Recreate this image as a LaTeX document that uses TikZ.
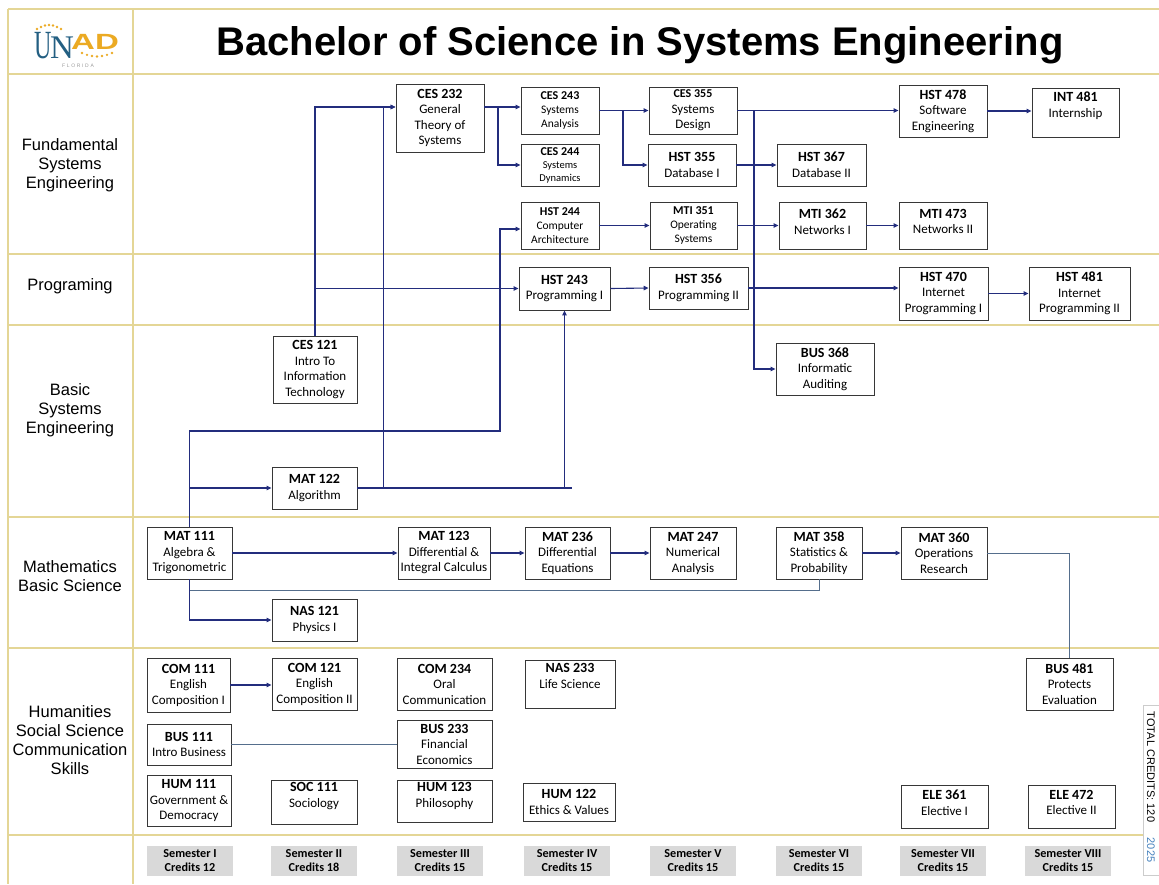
\documentclass[tikz,border=0pt]{standalone}
\usepackage{fontspec}
\usepackage{graphicx}
\setmainfont{Liberation Sans}
\newfontfamily\boxfont{Carlito}
\newfontfamily\serifont{Liberation Serif}
\usetikzlibrary{arrows.meta}
\definecolor{lnnavy}{RGB}{35,45,125}
\definecolor{lnslate}{RGB}{85,110,140}
\definecolor{gridgold}{RGB}{228,214,150}
\definecolor{boxc}{RGB}{55,55,55}
\definecolor{semgray}{RGB}{217,217,217}
\definecolor{logoteal}{RGB}{35,95,130}
\definecolor{logogold}{RGB}{235,170,35}
\definecolor{yrblue}{RGB}{70,130,190}
\newcommand\ct[1]{{\fontsize{14}{15.5}\selectfont\bfseries #1}}
\newcommand\cts[1]{{\fontsize{12}{13.5}\selectfont\bfseries #1}}
\newcommand\crs[7]{\node[#1, minimum width={(#5)-(#3)}, minimum height={(#6)-(#4)}] (#2) at ({((#3)+(#5))/2},{((#4)+(#6))/2}) {#7};}
\begin{document}
\begin{tikzpicture}[x=1pt,y=-1pt,
  crs/.style={draw=boxc, line width=0.9pt, inner sep=0pt, align=center,
    font=\boxfont\fontsize{13}{15.5}\selectfont},
  crss/.style={crs, font=\boxfont\fontsize{11.5}{13.8}\selectfont},
  crsxs/.style={crs, font=\boxfont\fontsize{10.5}{13}\selectfont},
  up/.style={text depth=#1},
  arr/.style={draw=lnnavy, line width=1.1pt, -{Triangle[length=5pt,width=4.5pt]}},
  ln/.style={draw=lnnavy, line width=1.1pt},
  ln2/.style={draw=lnslate, line width=1pt},
  gridln/.style={draw=gridgold, line width=1.2pt},
  lbl/.style={align=center, font=\fontsize{16.5}{19}\selectfont},
  sem/.style={fill=semgray, inner sep=0pt, minimum width=86pt, minimum height=30pt, align=center,
    font=\boxfont\bfseries\fontsize{12.2}{14}\selectfont},
  dotg/.style={fill=logogold, draw=none}
]
\useasboundingbox (0,0) rectangle (1159,884);
% grid
\foreach \yy in {9,74,254,325,517,648,835} \draw[gridln] (8,\yy) -- (1159,\yy);
\draw[gridln] (8,9) -- (8,884);
\draw[gridln] (133,9) -- (133,884);

% logo
\node[anchor=base west, inner sep=0pt, text=logoteal] (logoUN) at (34,58) {\serifont\fontsize{40}{40}\selectfont\scalebox{0.6}[1]{U}\kern-1.5pt{\fontsize{33}{33}\selectfont N}};
\node[anchor=base west, inner sep=0pt, text=logogold] (logoAD) at (71,49) {\bfseries\fontsize{22}{22}\selectfont\scalebox{1.5}[1]{AD}};
\foreach \px/\py in {37/29,41/27,45/25.5,49/25,53/25.5,57/27,61/29} \fill[dotg] (\px,\py) circle (1.3);
\foreach \px/\py in {82/53,87/54.8,92/56,97/56.5,102/56,107/54.8,112/53} \fill[dotg] (\px,\py) circle (1.3);
\node[inner sep=0pt, text=gray!80] (logoF) at (78,65.5) {\fontsize{5}{5}\selectfont F\,\,L\,\,O\,\,R\,\,I\,\,D\,\,A};

% title
\node[anchor=base, inner sep=0pt] (title) at (640,55) {\bfseries\fontsize{40}{40}\selectfont Bachelor of Science in Systems Engineering};

% row labels
\node[lbl] (l1) at (70,165) {Fundamental\\Systems\\Engineering};
\node[lbl] (l2) at (70,286) {Programing};
\node[lbl] (l3) at (70,410) {Basic\\Systems\\Engineering};
\node[lbl] (l4) at (70,576) {Mathematics\\Basic Science};
\node[lbl] (l5) at (70,740) {Humanities\\Social Science\\Communication\\Skills};

% courses: fundamental
\crs{crs}{ces232}{396}{84}{484}{152}{\ct{CES 232}\\General\\Theory of\\Systems}
\crs{crss}{ces243}{521}{87}{599}{134}{\cts{CES 243}\\Systems\\Analysis}
\crs{crsxs}{ces244}{521}{144}{599}{186}{\cts{CES 244}\\Systems\\Dynamics}
\crs{crs}{ces355}{649}{87}{737}{134}{\cts{CES 355}\\Systems\\Design}
\crs{crs}{hst355}{648}{144}{736}{186}{\ct{HST 355}\\Database I}
\crs{crs}{hst367}{777}{144}{866}{186}{\ct{HST 367}\\Database II}
\crs{crs}{hst478}{899}{85}{987}{137}{\ct{HST 478}\\Software\\Engineering}
\crs{crs,up=16pt}{int481}{1032}{88}{1119}{137}{\ct{INT 481}\\Internship}
\crs{crss}{hst244}{521}{202}{599}{249}{\cts{HST 244}\\Computer\\Architecture}
\crs{crss}{mti351}{650}{202}{737}{249}{\cts{MTI 351}\\Operating\\Systems}
\crs{crs,up=8pt}{mti362}{779}{202}{866}{249}{\ct{MTI 362}\\Networks I}
\crs{crs,up=8pt}{mti473}{899}{202}{987}{249}{\ct{MTI 473}\\Networks II}
% programming
\crs{crs}{hst243}{519}{267}{610}{310}{\ct{HST 243}\\Programming I}
\crs{crs}{hst356}{649}{267}{748}{309}{\ct{HST 356}\\Programming II}
\crs{crs}{hst470}{899}{267}{988}{320}{\ct{HST 470}\\Internet\\Programming I}
\crs{crs}{hst481}{1029}{267}{1130}{320}{\ct{HST 481}\\Internet\\Programming II}
% basic
\crs{crs}{ces121}{273}{336}{357}{403}{\ct{CES 121}\\Intro To\\Information\\Technology}
\crs{crs}{bus368}{776}{343}{874}{395}{\ct{BUS 368}\\Informatic\\Auditing}
\crs{crs}{mat122}{272}{467}{357}{509}{\ct{MAT 122}\\Algorithm}
% math
\crs{crs}{mat111}{147}{527}{232}{579}{\ct{MAT 111}\\Algebra \&\\Trigonometric}
\crs{crs}{mat123}{398}{527}{490}{579}{\ct{MAT 123}\\Differential \&\\Integral Calculus}
\crs{crs}{mat236}{525}{527}{610}{579}{\ct{MAT 236}\\Differential\\Equations}
\crs{crs}{mat247}{650}{527}{736}{579}{\ct{MAT 247}\\Numerical\\Analysis}
\crs{crs}{mat358}{776}{527}{862}{579}{\ct{MAT 358}\\Statistics \&\\Probability}
\crs{crs}{mat360}{901}{527}{987}{579}{\ct{MAT 360}\\Operations\\Research}
\crs{crs}{nas121}{272}{599}{357}{641}{\ct{NAS 121}\\Physics I}
% humanities
\crs{crs}{com111}{147}{658}{230}{712}{\ct{COM 111}\\English\\Composition I}
\crs{crs}{com121}{272}{658}{357}{710}{\ct{COM 121}\\English\\Composition II}
\crs{crs}{com234}{397}{658}{492}{710}{\ct{COM 234}\\Oral\\Communication}
\crs{crs,up=16pt}{nas233}{525}{660}{615}{708}{\ct{NAS 233}\\Life Science}
\crs{crs}{bus481}{1026}{658}{1113}{710}{\ct{BUS 481}\\Protects\\Evaluation}
\crs{crs}{bus111}{147}{724}{231}{765}{\ct{BUS 111}\\Intro Business}
\crs{crs}{bus233}{397}{720}{492}{768}{\ct{BUS 233}\\Financial\\Economics}
\crs{crs}{hum111}{147}{775}{231}{826}{\ct{HUM 111}\\Government \&\\Democracy}
\crs{crs,up=14pt}{soc111}{271}{780}{357}{824}{\ct{SOC 111}\\Sociology}
\crs{crs,up=12pt}{hum123}{397}{780}{492}{822}{\ct{HUM 123}\\Philosophy}
\crs{crs}{hum122}{523}{783}{615}{821}{\ct{HUM 122}\\Ethics \& Values}
\crs{crs,up=8pt}{ele361}{901}{785}{988}{828}{\ct{ELE 361}\\Elective I}
\crs{crs,up=8pt}{ele472}{1028}{785}{1115}{828}{\ct{ELE 472}\\Elective II}

% semesters
\node[sem] (s1) at (190,861) {Semester I\\Credits 12};
\node[sem] (s2) at (314,861) {Semester II\\Credits 18};
\node[sem] (s3) at (440,861) {Semester III\\Credits 15};
\node[sem] (s4) at (567,861) {Semester IV\\Credits 15};
\node[sem] (s5) at (693,861) {Semester V\\Credits 15};
\node[sem] (s6) at (819,861) {Semester VI\\Credits 15};
\node[sem] (s7) at (943,861) {Semester VII\\Credits 15};
\node[sem] (s8) at (1068,861) {Semester VIII\\Credits 15};

% total credits
\draw[draw=gray!40, line width=0.6pt, fill=white] (1143,705) rectangle (1159,875);
\node[rotate=-90, inner sep=0pt, font=\fontsize{11}{11}\selectfont] (tot) at (1151,767) {TOTAL CREDITS: 120};
\node[rotate=-90, inner sep=0pt, text=yrblue, font=\fontsize{11}{11}\selectfont] (yr) at (1151,850) {2025};

% connectors
\draw[arr] (ces121.north) |- ([yshift=11pt]ces232.west);
\draw[arr] (ces121.north |- hst243.west) -- (hst243.west);
\draw[ln] (mat122.east) -- ++(215,0);
\draw[arr] (mat122.east) -| (hst243.south);
\draw[arr] ([xshift=26pt]mat122.east) |- ([yshift=11pt]ces232.west);
\draw[arr] (mat111.north) -- (mat111.north |- 0,431) -| (500,229) -- (hst244.west |- 0,229);
\draw[arr] (mat111.north |- mat122.west) -- (mat122.west);
\draw[arr] (mat111.east) -- (mat123.west);
\draw[arr] (mat123.east) -- (mat236.west);
\draw[arr] (mat236.east) -- (mat247.west);
\draw[arr] (mat358.east) -- (mat360.west);
\draw[ln2] (mat358.south) |- (mat111.south |- 0,590);
\draw[arr] (mat111.south) |- (nas121.west);
\draw[ln2] (mat360.east) -| (bus481.north);
\draw[arr] ([yshift=11pt]ces232.east) -- ([yshift=11pt]ces232.east -| ces243.west);
\draw[arr] (498,107) |- (ces244.west);
\draw[arr] (ces243.east) -- (ces355.west);
\draw[arr] (623,110.5) |- (hst355.west);
\draw[arr] (ces355.east) -- (ces355.east -| hst478.west);
\draw[arr] (754,110.5) |- (bus368.west);
\draw[arr] (hst478.east) -- (hst478.east -| int481.west);
\draw[arr] (hst355.east) -- (hst367.west);
\draw[arr] (hst244.east) -- (mti351.west);
\draw[arr] (mti351.east) -- (mti362.west);
\draw[arr] (mti362.east) -- (mti473.west);
\draw[arr] (hst243.east) -- (hst356.west);
\draw[arr] (hst356.east) -- (hst356.east -| hst470.west);
\draw[arr] (hst470.east) -- (hst481.west);
\draw[arr] (com111.east) -- (com111.east -| com121.west);
\draw[ln2] (bus111.east) -- (bus111.east -| bus233.west);
\end{tikzpicture}
\end{document}
